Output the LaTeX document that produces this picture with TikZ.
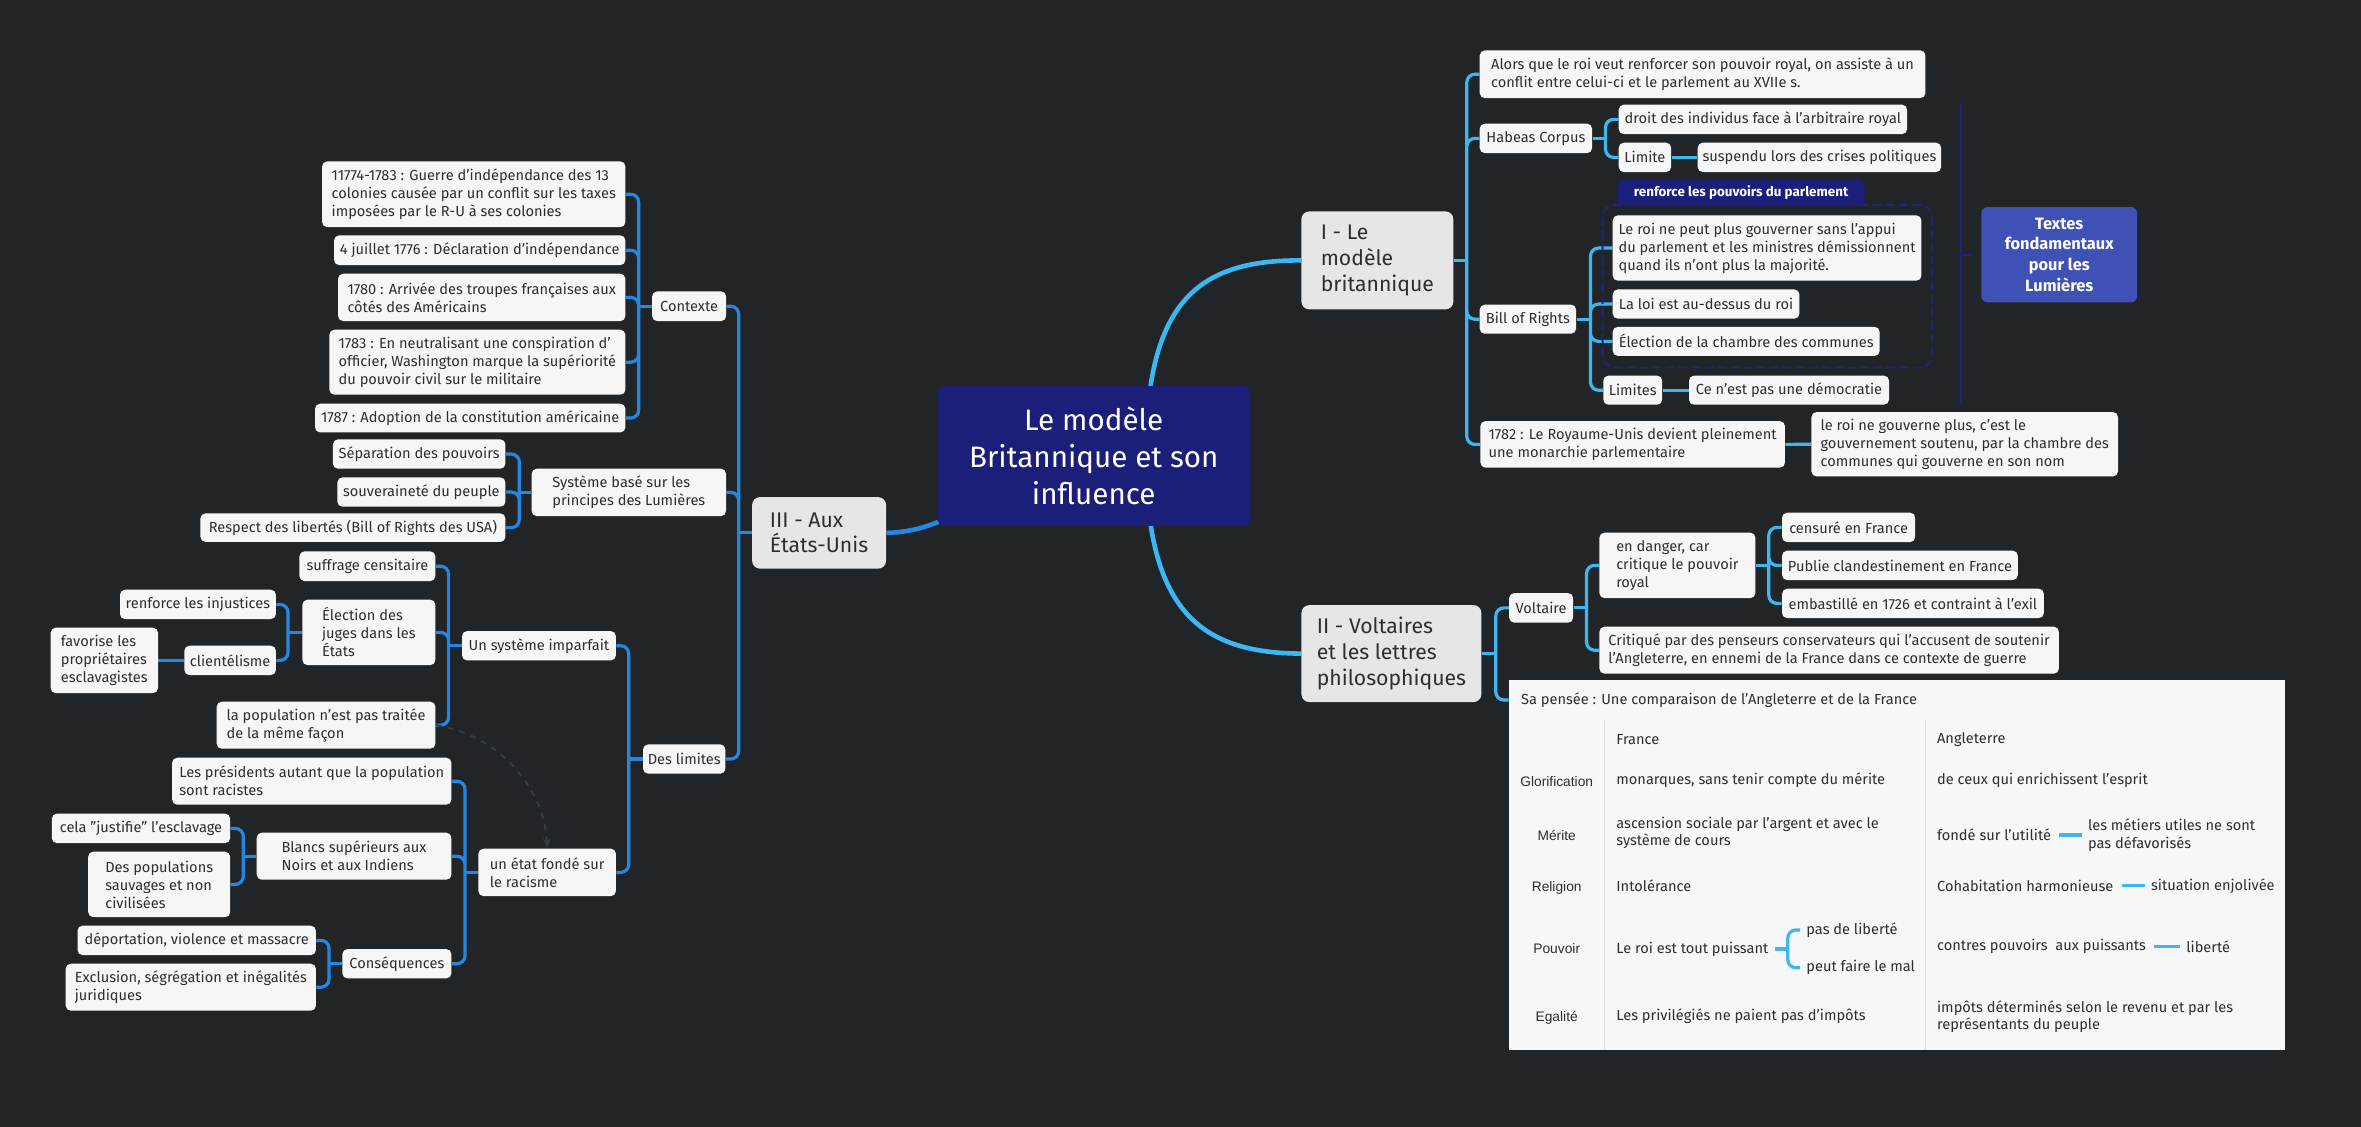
\documentclass[tikz,border=0pt]{standalone}
\usepackage{fontspec}
\setmainfont{Fira Sans}
\newfontfamily\labfont{Liberation Sans}
\usetikzlibrary{arrows.meta,calc}
\definecolor{bgc}{HTML}{212528}
\definecolor{leaffill}{HTML}{F6F6F6}
\definecolor{lonefill}{HTML}{E6E6E6}
\definecolor{txt}{HTML}{2E2E2E}
\definecolor{navy}{HTML}{1B1F7A}
\definecolor{cyanl}{HTML}{3DB6F4}
\definecolor{bluel}{HTML}{2388E4}
\definecolor{indigo}{HTML}{3F51B5}
\definecolor{sumc}{HTML}{1E2382}
\definecolor{tblfill}{HTML}{F7F7F7}
\definecolor{sepc}{HTML}{DDDDDD}
\definecolor{relc}{HTML}{363B40}
\pgfdeclarelayer{bg}
\pgfsetlayers{bg,main}
\begin{document}
\begin{tikzpicture}[x=0.5pt,y=-0.5pt,
 sz/.style 2 args={minimum width=#1*0.5pt, minimum height=#2*0.5pt},
 leaf/.style={anchor=north west, fill=leaffill, text=txt, rounded corners=2.5pt, inner sep=0pt, align=left, font=\fontsize{7.3}{9}\selectfont},
 lone/.style={anchor=north west, fill=lonefill, text=txt, rounded corners=4pt, inner sep=0pt, align=left, font=\fontsize{10.6}{12.9}\selectfont},
 rootn/.style={anchor=north west, fill=navy, text=white, rounded corners=4pt, inner sep=0pt, align=center, font=\fontsize{14.8}{18.3}\selectfont},
 tag/.style={anchor=north west, fill=navy, text=white, rounded corners=3pt, inner sep=0pt, font=\bfseries\fontsize{6.7}{7.8}\selectfont},
 sumbox/.style={anchor=north west, fill=indigo, text=white, rounded corners=3pt, inner sep=0pt, align=center, font=\bfseries\fontsize{8.2}{10.3}\selectfont},
 bnd/.style={anchor=north west, draw=sumc, dash pattern=on 4pt off 2.5pt, line width=0.9pt, rounded corners=6pt, inner sep=0pt},
 tblbox/.style={anchor=north west, fill=tblfill, inner sep=0pt},
 hdrs/.style={anchor=west, inner xsep=6.1pt, inner ysep=0pt, text=txt, font=\fontsize{7.3}{9}\selectfont},
 tt/.style={anchor=west, inner sep=0pt, text=txt, align=left, font=\fontsize{7.3}{8.85}\selectfont},
 lab/.style={anchor=center, inner sep=0pt, text=txt, font=\labfont\fontsize{6.9}{8.5}\selectfont},
 cI/.style={draw=cyanl, line width=1.6pt},
 cIII/.style={draw=bluel, line width=1.6pt},
 rc/.style={rounded corners=4pt},
 mainc/.style={line width=2.3pt},
 sumline/.style={draw=sumc, line width=1pt},
 sepl/.style={draw=sepc, line width=0.8pt},
 rel/.style={draw=relc, line width=1pt, dashed, -{Stealth[length=5pt]}}
]
\useasboundingbox (0,0) rectangle (2361,1127);

% ---------- central and level 1
\node[rootn, sz={313.3}{140}] (root) at (936.7,385.5) {Le modèle\\Britannique et son\\influence};
\node[lone, sz={152}{98}] (I) at (1301,211) {I - Le\\modèle\\britannique};
\node[lone, sz={180}{97}] (II) at (1301,604.7) {II - Voltaires\\et les lettres\\philosophiques};
\node[lone, sz={134}{71.6}] (III) at (751.7,496.7) {III - Aux\\États-Unis};

% ---------- branch I
\node[leaf, sz={445.7}{47.7}] (alors) at (1479.3,50) {Alors que le roi veut renforcer son pouvoir royal, on assiste à un\\conflit entre celui-ci et le parlement au XVIIe s.};
\node[leaf, sz={112.4}{29.4}] (hab) at (1479.3,123.3) {Habeas Corpus};
\node[leaf, sz={288.4}{29.4}] (droit) at (1618.3,104.3) {droit des individus face à l'arbitraire royal};
\node[leaf, sz={52.4}{29.4}] (lim) at (1618.3,142.3) {Limite};
\node[leaf, sz={243.4}{29.4}] (susp) at (1697.3,142.3) {suspendu lors des crises politiques};
\node[bnd, sz={329.3}{162.7}] (bnd) at (1601.7,204) {};
\node[tag, sz={246.7}{26.4}] (renf) at (1617.3,179.3) {renforce les pouvoirs du parlement};
\node[leaf, sz={96.4}{29}] (bill) at (1479.3,304.3) {Bill of Rights};
\node[leaf, sz={308.7}{65.3}] (roi) at (1612.3,215) {Le roi ne peut plus gouverner sans l'appui\\du parlement et les ministres démissionnent\\quand ils n'ont plus la majorité.};
\node[leaf, sz={186.7}{29.3}] (loi) at (1612.3,289) {La loi est au-dessus du roi};
\node[leaf, sz={267}{29}] (elec) at (1612.3,326.5) {Élection de la chambre des communes};
\node[leaf, sz={58.9}{29}] (lims) at (1602.9,375.3) {Limites};
\node[leaf, sz={200}{29}] (dem) at (1688.6,375.3) {Ce n'est pas une démocratie};
\node[leaf, sz={304.5}{46.6}] (y1782) at (1480,420.7) {1782 : Le Royaume-Unis devient pleinement\\une monarchie parlementaire};
\node[leaf, sz={306.6}{64.3}] (gouv) at (1811,411.7) {le roi ne gouverne plus, c'est le\\gouvernement soutenu, par la chambre des\\communes qui gouverne en son nom};
\node[sumbox, sz={155.7}{95.3}] (tx) at (1981,206.7) {Textes\\fondamentaux\\pour les\\Lumières};
\coordinate (smt) at (1961,103);
\coordinate (smb) at (1961,405);

% ---------- branch II
\node[leaf, sz={63.9}{29.6}] (volt) at (1508.8,592.7) {Voltaire};
\node[leaf, sz={156}{65.4}] (dang) at (1599,532.3) {en danger, car\\critique le pouvoir\\royal};
\node[leaf, sz={133.1}{29.4}] (cens) at (1781.7,512.3) {censuré en France};
\node[leaf, sz={235.7}{29.4}] (pub) at (1781.7,550.3) {Publie clandestinement en France};
\node[leaf, sz={261.7}{29.4}] (emb) at (1781.7,588.3) {embastillé en 1726 et contraint à l'exil};
\node[leaf, sz={459.4}{47}] (crit) at (1599,626.3) {Critiqué par des penseurs conservateurs qui l'accusent de soutenir\\l'Angleterre, en ennemi de la France dans ce contexte de guerre};

% table
\node[tblbox, sz={776}{370}] (tbl) at (1508.5,680) {};
\node[hdrs] (hdr) at (1508.5,700) {Sa pensée : Une comparaison de l'Angleterre et de la France};
\draw[sepl] (1604.3,720) -- (1604.3,1050);
\draw[sepl] (1925.3,720) -- (1925.3,1050);
\node[tt] (tFr) at (1616,740) {France};
\node[tt] (tAn) at (1936.7,740) {Angleterre};
\node[lab] (lG) at (1556.7,781.7) {Glorification};
\node[lab] (lM) at (1556.7,835) {Mérite};
\node[lab] (lR) at (1556.7,887.7) {Religion};
\node[lab] (lP) at (1556.7,949) {Pouvoir};
\node[lab] (lE) at (1556.7,1018.3) {Egalité};
\node[tt] (fG) at (1616,780) {monarques, sans tenir compte du mérite};
\node[tt] (fM) at (1616,833) {ascension sociale par l'argent et avec le\\système de cours};
\node[tt] (fR) at (1616,885.7) {Intolérance};
\node[tt] (fP) at (1616,949) {Le roi est tout puissant};
\node[tt] (pdl) at (1806,930) {pas de liberté};
\node[tt] (pfm) at (1806,967.7) {peut faire le mal};
\node[tt] (fE) at (1616,1016.7) {Les privilégiés ne paient pas d'impôts};
\node[tt] (aG) at (1936.7,780) {de ceux qui enrichissent l'esprit};
\node[tt] (aM) at (1936.7,835) {fondé sur l'utilité};
\node[tt] (aM2) at (2087.7,835) {les métiers utiles ne sont\\pas défavorisés};
\node[tt] (aR) at (1936.7,885.7) {Cohabitation harmonieuse};
\node[tt] (aR2) at (2150.7,885.7) {situation enjolivée};
\node[tt] (aP) at (1936.7,946.7) {contres pouvoirs\ \ aux puissants};
\node[tt] (aP2) at (2186,946.7) {liberté};
\node[tt] (aE) at (1936.7,1016.7) {impôts déterminés selon le revenu et par les\\représentants du peuple};

% ---------- branch III
\node[leaf, sz={74}{29.7}] (ctx) at (651.7,291) {Contexte};
\node[leaf, sz={194.3}{47.4}] (sys) at (531.3,468.3) {Système basé sur les\\principes des Lumières};
\node[leaf, sz={82.3}{29.3}] (lmt) at (642.7,744) {Des limites};
\node[leaf, sz={303.3}{65.7}] (c1) at (321.7,161) {11774-1783 : Guerre d'indépendance des 13\\colonies causée par un conflit sur les taxes\\imposées par le R-U à ses colonies};
\node[leaf, sz={291.3}{29.7}] (c2) at (333.7,235) {4 juillet 1776 : Déclaration d'indépendance};
\node[leaf, sz={287.3}{47.4}] (c3) at (337.7,273.3) {1780 : Arrivée des troupes françaises aux\\côtés des Américains};
\node[leaf, sz={296}{65}] (c4) at (329,329.3) {1783 : En neutralisant une conspiration d'\\officier, Washington marque la supériorité\\du pouvoir civil sur le militaire};
\node[leaf, sz={310.3}{28.7}] (c5) at (314.7,403.3) {1787 : Adoption de la constitution américaine};
\node[leaf, sz={172.5}{29.3}] (s1) at (332.5,439) {Séparation des pouvoirs};
\node[leaf, sz={168}{29.3}] (s2) at (337,477) {souveraineté du peuple};
\node[leaf, sz={305}{28.5}] (s3) at (200,513) {Respect des libertés (Bill of Rights des USA)};
\node[leaf, sz={153.9}{29.3}] (imp) at (461.6,630.7) {Un système imparfait};
\node[leaf, sz={137.5}{47.4}] (etat) at (478,848.3) {un état fondé sur\\le racisme};
\node[leaf, sz={136}{29.7}] (u1) at (299,551) {suffrage censitaire};
\node[leaf, sz={133}{65.4}] (u2) at (302,599.3) {Élection des\\juges dans les\\États};
\node[leaf, sz={218.7}{47}] (u3) at (216.3,701.3) {la population n'est pas traitée\\de la même façon};
\node[leaf, sz={155.9}{29.4}] (j1) at (119.6,589.3) {renforce les injustices};
\node[leaf, sz={91.5}{29.4}] (j2) at (184,645.3) {clientélisme};
\node[leaf, sz={107.4}{65.4}] (j3) at (50.2,627.3) {favorise les\\propriétaires\\esclavagistes};
\node[leaf, sz={279.2}{47}] (e1) at (171.8,757.3) {Les présidents autant que la population\\sont racistes};
\node[leaf, sz={194.7}{47}] (e2) at (256.3,832.3) {Blancs supérieurs aux\\Noirs et aux Indiens};
\node[leaf, sz={109}{29.3}] (e3) at (342,948.7) {Conséquences};
\node[leaf, sz={178.4}{29.4}] (b1) at (51.4,813.3) {cela "justifie" l'esclavage};
\node[leaf, sz={142}{65.4}] (b2) at (87.8,851.3) {Des populations\\sauvages et non\\civilisées};
\node[leaf, sz={238.4}{29.4}] (q1) at (77.1,925.3) {déportation, violence et massacre};
\node[leaf, sz={250.2}{47}] (q2) at (65.3,963.3) {Exclusion, ségrégation et inégalités\\juridiques};

\coordinate (rI) at (1146,440);
\coordinate (rII) at (1146,470);
\coordinate (rIII) at (950,517);

% ---------- connectors
\begin{pgfonlayer}{bg}
\fill[bgc] (0,0) rectangle (2361,1127);
\draw[cI,mainc] (rI) .. controls (1150,300) and (1200,260) .. (I.west);
\draw[cI,mainc] (rII) .. controls (1150,610) and (1200,653) .. (II.west);
\draw[cIII,mainc] (III.east) .. controls (910,532) and (925,528) .. (rIII);
% I
\draw[cI] (I.east) -- ++(13,0) coordinate (jI);
\draw[cI,rc] (jI) |- (alors.west) (jI) |- (hab.west) (jI) |- (bill.west) (jI) |- (y1782.west);
\draw[cI] (hab.east) -- ++(13,0) coordinate (jH);
\draw[cI,rc] (jH) |- (droit.west) (jH) |- (lim.west);
\draw[cI] (lim.east) -- (susp.west);
\draw[cI] (bill.east) -- ++(14,0) coordinate (jB);
\draw[cI,rc] (jB) |- (roi.west) (jB) |- (loi.west) (jB) |- (elec.west) (jB) |- (lims.west);
\draw[cI] (lims.east) -- (dem.west);
\draw[cI] (y1782.east) -- (gouv.west);
% II
\draw[cI] (II.east) -- ++(14,0) coordinate (jII);
\draw[cI,rc] (jII) |- (volt.west) (jII) |- (hdr.west);
\draw[cI] (volt.east) -- ++(13,0) coordinate (jV);
\draw[cI,rc] (jV) |- (dang.west) (jV) |- (crit.west);
\draw[cI] (dang.east) -- ++(13,0) coordinate (jD);
\draw[cI,rc] (jD) |- (cens.west) (jD) |- (pub.west) (jD) |- (emb.west);
% III
\draw[cIII] (III.west) -- ++(-13,0) coordinate (jIII);
\draw[cIII,rc] (jIII) |- (ctx.east) (jIII) |- (sys.east) (jIII) |- (lmt.east);
\draw[cIII] (ctx.west) -- ++(-13,0) coordinate (jC);
\draw[cIII,rc] (jC) |- (c1.east) (jC) |- (c2.east) (jC) |- (c3.east) (jC) |- (c4.east) (jC) |- (c5.east);
\draw[cIII] (sys.west) -- ++(-12,0) coordinate (jS);
\draw[cIII,rc] (jS) |- (s1.east) (jS) |- (s2.east) (jS) |- (s3.east);
\draw[cIII] (lmt.west) -- ++(-14,0) coordinate (jL);
\draw[cIII,rc] (jL) |- (imp.east) (jL) |- (etat.east);
\draw[cIII] (imp.west) -- ++(-13,0) coordinate (jU);
\draw[cIII,rc] (jU) |- (u1.east) (jU) |- (u2.east) (jU) |- (u3.east);
\draw[cIII] (u2.west) -- ++(-14,0) coordinate (jE);
\draw[cIII,rc] (jE) |- (j1.east) (jE) |- (j2.east);
\draw[cIII] (j2.west) -- (j3.east);
\draw[cIII] (etat.west) -- ++(-13,0) coordinate (jT);
\draw[cIII,rc] (jT) |- (e1.east) (jT) |- (e2.east) (jT) |- (e3.east);
\draw[cIII] (e2.west) -- ++(-13,0) coordinate (jBl);
\draw[cIII,rc] (jBl) |- (b1.east) (jBl) |- (b2.east);
\draw[cIII] (e3.west) -- ++(-13,0) coordinate (jQ);
\draw[cIII,rc] (jQ) |- (q1.east) (jQ) |- (q2.east);
\end{pgfonlayer}

% summary bracket
\draw[sumline] (smt) -- (smb);
\draw[sumline] (smt |- tx.west) -- ([xshift=-4.5pt]tx.west);

% table inner connectors
\draw[cI] ([xshift=3pt]fP.east) -- ++(13,0) coordinate (bk);
\draw[cI,rc] (bk) |- ([xshift=-3pt]pdl.west) (bk) |- ([xshift=-3pt]pfm.west);
\draw[cI] ([xshift=4pt]aM.east) -- ([xshift=-3pt]aM2.west);
\draw[cI] ([xshift=4pt]aR.east) -- ([xshift=-3pt]aR2.west);
\draw[cI] ([xshift=4pt]aP.east) -- ([xshift=-3pt]aP2.west);

% relationship
\draw[rel] (u3.east) .. controls (500,735) and (545,790) .. (etat.north);
\end{tikzpicture}
\end{document}
